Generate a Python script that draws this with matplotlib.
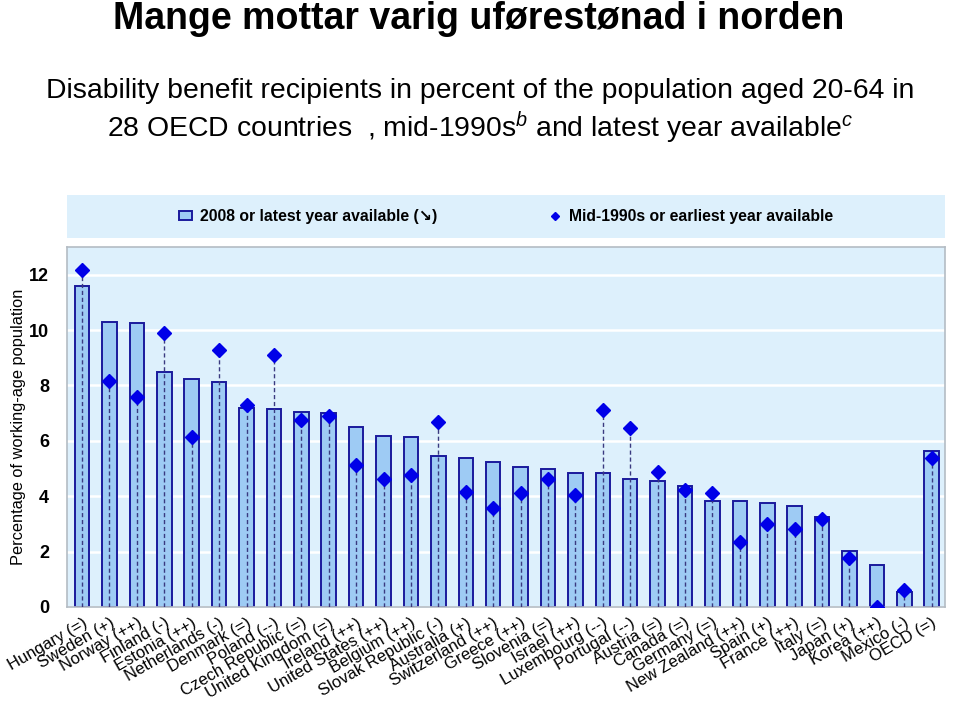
import numpy as np
import matplotlib
matplotlib.use("Agg")
import matplotlib.pyplot as plt

plt.rcParams['font.family'] = ['Liberation Sans', 'DejaVu Sans']
plt.rcParams['mathtext.fontset'] = 'custom'
plt.rcParams['mathtext.rm'] = 'Liberation Sans'
plt.rcParams['mathtext.it'] = 'Liberation Sans:italic'

# DATA
countries = ["Hungary (=)", "Sweden (+)", "Norway (++)", "Finland (-)", "Estonia (++)",
             "Netherlands (-)", "Denmark (=)", "Poland (--)", "Czech Republic (=)",
             "United Kingdom (=)", "Ireland (++)", "United States (++)", "Belgium (++)",
             "Slovak Republic (-)", "Australia (+)", "Switzerland (++)", "Greece (++)",
             "Slovenia (=)", "Israel (++)", "Luxembourg (--)", "Portugal (--)",
             "Austria (=)", "Canada (=)", "Germany (=)", "New Zealand (++)", "Spain (+)",
             "France (++)", "Italy (=)", "Japan (+)", "Korea (++)", "Mexico (-)", "OECD (=)"]
latest = [11.58, 10.31, 10.26, 8.47, 8.23, 8.14, 7.19, 7.14, 7.05, 7.02, 6.51, 6.19,
          6.15, 5.46, 5.39, 5.24, 5.07, 4.97, 4.83, 4.83, 4.61, 4.56, 4.38, 3.84, 3.84,
          3.74, 3.65, 3.26, 2.03, 1.53, 0.54, 5.64]
mid1990s = [12.18, 8.15, 7.60, 9.91, 6.13, 9.28, 7.30, 9.11, 6.75, 6.90, 5.13, 4.63,
            4.76, 6.67, 4.14, 3.58, 4.12, 4.62, 4.04, 7.12, 6.48, 4.88, 4.22, 4.12, 2.35,
            2.99, 2.81, 3.17, 1.77, 0.0, 0.60, 5.39]
yticks = [0, 2, 4, 6, 8, 10, 12]

bg = "#ddf0fc"
barfill = "#9ecbf4"
baredge = "#1a1a9c"
dia = "#0000e8"

fig = plt.figure(figsize=(9.6, 7.03), dpi=100)

fig.text(0.499, 0.973, "Mange mottar varig uførestønad i norden", ha="center", va="center",
         fontsize=27, fontweight="bold")
fig.text(0.5, 0.871, "Disability benefit recipients in percent of the population aged 20-64 in",
         ha="center", va="center", fontsize=20.4)
fig.text(0.5, 0.818, "28 OECD countries  , mid-1990s$^{b}$ and latest year available$^{c}$",
         ha="center", va="center", fontsize=20.4)

ax = fig.add_axes([0.0698, 0.1366, 0.915, 0.512])
ax.set_facecolor(bg)
x = np.arange(len(countries))

bars = ax.bar(x, latest, width=0.53, color=barfill, edgecolor=baredge, linewidth=1.4,
              zorder=2, label="2008 or latest year available (↘)")
ax.vlines(x, 0, mid1990s, colors="#3a3a80", linestyles=(0, (3, 2)), linewidth=1, zorder=3)
pts, = ax.plot(x, mid1990s, linestyle="none", marker="D", markersize=7, color=dia,
               zorder=4, label="Mid-1990s or earliest year available")

ax.set_ylim(0, 13)
ax.set_xlim(-0.55, len(countries) - 0.5)
ax.set_yticks(yticks)
ax.set_yticklabels([str(t) for t in yticks], fontsize=13, fontweight="bold")
ax.yaxis.grid(True, color="white", linewidth=1.8, zorder=0)
ax.set_axisbelow(True)
ax.tick_params(axis="both", length=0)
ax.tick_params(axis="y", pad=13)
ax.tick_params(axis="x", pad=6)
ax.set_xticks(x)
ax.set_xticklabels(countries, rotation=30, ha="right", rotation_mode="anchor", fontsize=12)
ax.set_ylabel("Percentage of working-age population", fontsize=11.8, va="center")
ax.yaxis.set_label_coords(-0.055, 0.5)
for s in ax.spines.values():
    s.set_color("#b4bcc4")
    s.set_linewidth(1.2)

# legend box above the plot
lax = fig.add_axes([0.0698, 0.6615, 0.915, 0.061])
lax.set_facecolor(bg)
lax.set_xticks([])
lax.set_yticks([])
for s in lax.spines.values():
    s.set_visible(False)
lax.legend(handles=[bars, pts], loc="center", ncol=2, frameon=False, columnspacing=7.1,
           prop={"weight": "bold", "size": 11.3}, handlelength=0.8, handleheight=0.6,
           handletextpad=0.5, markerscale=0.6)

fig.savefig("out.png", dpi=100)
